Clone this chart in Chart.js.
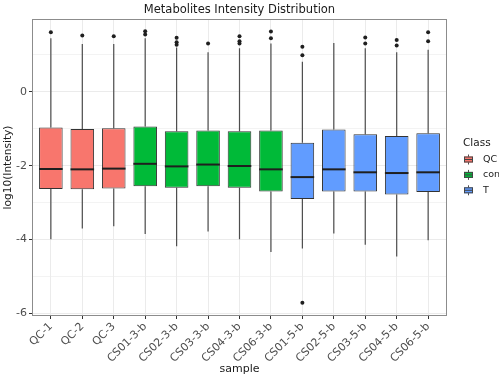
<!DOCTYPE html>
<html>
<head>
<meta charset="utf-8">
<script src="https://cdn.jsdelivr.net/npm/chart.js@4"></script>
<style>
  html, body { margin: 0; padding: 0; background: #fff; }
  #wrap { width: 499px; height: 379px; }
</style>
</head>
<body>
<div id="wrap"><canvas id="box-chart" width="499" height="379"></canvas></div>
<script>
// data (log10 intensity)
const samples = ['QC-1', 'QC-2', 'QC-3', 'CS01-3-b', 'CS02-3-b', 'CS03-3-b', 'CS04-3-b', 'CS06-3-b',
	'CS01-5-b', 'CS02-5-b', 'CS03-5-b', 'CS04-5-b', 'CS06-5-b'];
const sampleClass = ['QC', 'QC', 'QC', 'con', 'con', 'con', 'con', 'con', 'T', 'T', 'T', 'T', 'T'];
const whiskerLow = [-3.99, -3.70, -3.64, -3.85, -4.18, -3.78, -3.99, -4.34, -4.24, -3.84, -4.14, -4.46, -4.02];
const q1 = [-2.63, -2.64, -2.62, -2.56, -2.60, -2.56, -2.60, -2.70, -2.90, -2.70, -2.70, -2.78, -2.71];
const median = [-2.09, -2.10, -2.08, -1.95, -2.02, -1.97, -2.01, -2.10, -2.31, -2.10, -2.18, -2.20, -2.18];
const q3 = [-0.97, -1.01, -0.99, -0.94, -1.07, -1.05, -1.07, -1.05, -1.38, -1.02, -1.15, -1.20, -1.12];
const whiskerHigh = [1.45, 1.29, 1.29, 1.45, 1.20, 1.07, 1.18, 1.31, 0.81, 1.32, 1.18, 1.07, 1.14];
const outliers = [[1.61], [1.52], [1.50], [1.64, 1.55], [1.46, 1.34, 1.27], [1.31], [1.50, 1.37, 1.31],
	[1.63, 1.45], [1.22, 0.99, -5.71], [], [1.47, 1.31], [1.40, 1.25], [1.61, 1.37]];
const classNames = ['QC', 'con', 'T'];
const classColors = {QC: '#F8766D', con: '#00BA38', T: '#619CFF'};
const yTicks = [-6, -5, -4, -3, -2, -1, 0, 1];

const FONT = "'DejaVu Sans', sans-serif";

// whiskers, medians, outliers, panel border, title and legend
const boxExtras = {
	id: 'boxExtras',
	beforeDatasetsDraw(chart) {
		const {ctx, scales: {x, y}} = chart;
		ctx.save();
		ctx.strokeStyle = '#4d4d4d';
		ctx.lineWidth = 1.2;
		samples.forEach((s, i) => {
			const px = x.getPixelForValue(i + 1);
			ctx.beginPath();
			ctx.moveTo(px, y.getPixelForValue(whiskerHigh[i]));
			ctx.lineTo(px, y.getPixelForValue(q3[i]));
			ctx.moveTo(px, y.getPixelForValue(q1[i]));
			ctx.lineTo(px, y.getPixelForValue(whiskerLow[i]));
			ctx.stroke();
		});
		ctx.restore();
	},
	afterDatasetsDraw(chart) {
		const {ctx, scales: {x, y}} = chart;
		const meta = chart.getDatasetMeta(0);
		ctx.save();
		samples.forEach((s, i) => {
			const bar = meta.data[i];
			const half = bar.width / 2;
			const px = x.getPixelForValue(i + 1);
			const py = y.getPixelForValue(median[i]);
			ctx.strokeStyle = '#1f1f1f';
			ctx.lineWidth = 2;
			ctx.beginPath();
			ctx.moveTo(px - half, py);
			ctx.lineTo(px + half, py);
			ctx.stroke();
			ctx.fillStyle = '#1f1f1f';
			outliers[i].forEach(v => {
				ctx.beginPath();
				ctx.arc(px, y.getPixelForValue(v), 2, 0, Math.PI * 2);
				ctx.fill();
			});
		});
		ctx.restore();
	},
	afterDraw(chart) {
		const {ctx, chartArea: a} = chart;
		ctx.save();
		ctx.strokeStyle = '#8c8c8c';
		ctx.lineWidth = 1;
		ctx.strokeRect(a.left + 0.5, a.top + 0.5, a.right - a.left - 1, a.bottom - a.top - 1);

		ctx.fillStyle = '#1a1a1a';
		ctx.font = '11.5px ' + FONT;
		ctx.textAlign = 'center';
		ctx.textBaseline = 'middle';
		ctx.fillText('Metabolites Intensity Distribution', (a.left + a.right) / 2, 10);

		// legend
		const lx = a.right + 16;
		ctx.textAlign = 'left';
		ctx.font = '10.5px ' + FONT;
		ctx.fillText('Class', lx, 143.5);
		ctx.font = '9.5px ' + FONT;
		classNames.forEach((c, k) => {
			const cy = 159.5 + k * 15.4;
			ctx.strokeStyle = '#4d4d4d';
			ctx.lineWidth = 1;
			ctx.beginPath();
			ctx.moveTo(lx + 5.5, cy - 5);
			ctx.lineTo(lx + 5.5, cy + 5);
			ctx.stroke();
			ctx.fillStyle = classColors[c];
			ctx.fillRect(lx + 1, cy - 3, 9, 6);
			ctx.strokeStyle = '#444';
			ctx.strokeRect(lx + 1.5, cy - 2.5, 8, 5);
			ctx.beginPath();
			ctx.moveTo(lx + 1, cy);
			ctx.lineTo(lx + 10, cy);
			ctx.stroke();
			ctx.fillStyle = '#1a1a1a';
			ctx.fillText(c, lx + 20, cy);
		});
		ctx.restore();
	}
};

new Chart(document.getElementById('box-chart'), {
	type: 'bar',
	data: {
		datasets: [{
			data: samples.map((s, i) => ({x: i + 1, y: [q1[i], q3[i]]})),
			backgroundColor: sampleClass.map(c => classColors[c]),
			borderColor: '#333333',
			borderWidth: 1,
			borderSkipped: false,
			barPercentage: 0.75,
			categoryPercentage: 1
		}]
	},
	options: {
		responsive: false,
		animation: false,
		layout: {padding: {left: 0, top: 19, right: 52, bottom: 0}},
		plugins: {
			legend: {display: false},
			title: {display: false},
			tooltip: {enabled: false}
		},
		scales: {
			x: {
				type: 'linear',
				offset: false,
				min: 0.4,
				max: 13.6,
				afterBuildTicks: (scale) => {
					scale.ticks = samples.map((s, i) => ({value: i + 1}));
				},
				afterFit: (scale) => {
					scale.height = 63;
					scale.paddingLeft = 0;
					scale.paddingRight = 0;
				},
				ticks: {
					autoSkip: false,
					minRotation: 45,
					maxRotation: 45,
					padding: 1,
					color: '#4d4d4d',
					font: {family: FONT, size: 11},
					callback: (v) => samples[v - 1]
				},
				grid: {offset: false, color: '#ebebeb', lineWidth: 1, tickLength: 3, tickColor: '#333'},
				border: {display: false},
				title: {
					display: true,
					text: 'sample',
					color: '#1a1a1a',
					font: {family: FONT, size: 11},
					padding: {top: 0, bottom: 3}
				}
			},
			y: {
				min: -6.07,
				max: 1.97,
				afterBuildTicks: (scale) => {
					scale.ticks = yTicks.map(v => ({value: v}));
				},
				afterFit: (scale) => {
					scale.width = 32;
					scale.paddingTop = 0;
					scale.paddingBottom = 0;
				},
				ticks: {
					padding: 2,
					color: '#4d4d4d',
					font: {family: FONT, size: 11},
					callback: (v) => (v % 2 === 0 ? String(v) : '')
				},
				grid: {
					color: '#ebebeb',
					lineWidth: (c) => (c.tick && c.tick.value % 2 === 0 ? 1 : 0.6),
					tickLength: 3,
					tickColor: (c) => (c.tick && c.tick.value % 2 === 0 ? '#333' : 'rgba(0,0,0,0)')
				},
				border: {display: false},
				title: {
					display: true,
					text: 'log10(Intensity)',
					color: '#1a1a1a',
					font: {family: FONT, size: 10.6},
					padding: {top: 2, bottom: 0}
				}
			}
		}
	},
	plugins: [boxExtras]
});
</script>
</body>
</html>
